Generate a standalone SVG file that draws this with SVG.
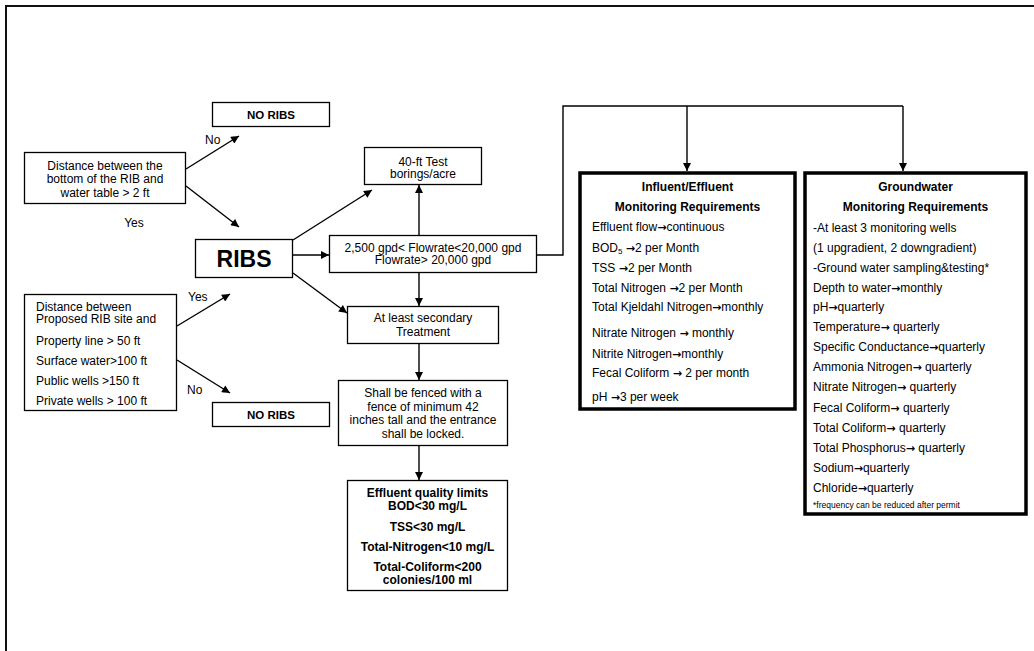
<svg xmlns="http://www.w3.org/2000/svg" width="1034" height="651" viewBox="0 0 1034 651">
<defs>
<marker id="ah" viewBox="0 0 10 10" refX="10" refY="5" markerWidth="9" markerHeight="8" markerUnits="userSpaceOnUse" orient="auto">
<path d="M0,0 L10,5 L0,10 z" fill="#000"/>
</marker>
</defs>
<style>
.box{fill:#fff;stroke:#000;stroke-width:1.3}
.thick{fill:#fff;stroke:#000;stroke-width:3.5}
.t{font-family:"Liberation Sans",Arial,sans-serif;font-size:12px;fill:#000}
.c{text-anchor:middle}
.b{font-weight:bold}
.a{font-family:"DejaVu Sans",sans-serif;font-size:11px;font-weight:bold}
.conn line,.conn polyline{stroke:#000;stroke-width:1.4;fill:none}
.arr{marker-end:url(#ah)}
</style>
<rect x="6" y="6" width="1100" height="700" fill="#fff" stroke="#111" stroke-width="2"/>

<g id="connectors" class="conn">
<line class="arr" x1="186" y1="169" x2="239" y2="136"/>
<line class="arr" x1="186" y1="186" x2="239" y2="227"/>
<line class="arr" x1="177" y1="326" x2="230" y2="294"/>
<line class="arr" x1="177" y1="360" x2="230" y2="393"/>
<line class="arr" x1="293" y1="255" x2="329" y2="255"/>
<line class="arr" x1="293" y1="240" x2="372" y2="190"/>
<line class="arr" x1="293" y1="273" x2="347" y2="313"/>
<line class="arr" x1="419" y1="235" x2="419" y2="185"/>
<line class="arr" x1="419" y1="272" x2="419" y2="306"/>
<line class="arr" x1="419" y1="343" x2="419" y2="380"/>
<line class="arr" x1="419" y1="445" x2="419" y2="480"/>
<polyline points="537,255 563,255 563,106 903,106"/>
<line class="arr" x1="687" y1="106" x2="687" y2="171"/>
<line class="arr" x1="903" y1="106" x2="903" y2="171"/>
</g>

<g id="labels">
<text class="t" x="205" y="144">No</text>
<text class="t c" x="134" y="227">Yes</text>
<text class="t" x="188" y="301">Yes</text>
<text class="t" x="187" y="394">No</text>
</g>

<g id="no-ribs-1">
<rect class="box" x="212.5" y="102.5" width="117" height="24"/>
<text class="t c b" x="271" y="118.5" style="font-size:11.5px">NO RIBS</text>
</g>

<g id="water-table">
<rect class="box" x="24.5" y="152.5" width="161" height="51"/>
<text class="t c" x="105" y="170">Distance between the</text>
<text class="t c" x="105" y="183">bottom of the RIB and</text>
<text class="t c" x="105" y="197">water table &gt; 2 ft</text>
</g>

<g id="ribs">
<rect class="box" x="195.5" y="239.5" width="97" height="38"/>
<text class="t c b" x="244" y="267" style="font-size:23px">RIBS</text>
</g>

<g id="setbacks">
<rect class="box" x="24.5" y="294.5" width="152" height="116"/>
<text class="t" x="36" y="311">Distance between</text>
<text class="t" x="36" y="323">Proposed RIB site and</text>
<text class="t" x="36" y="345">Property line &gt; 50 ft</text>
<text class="t" x="36" y="365">Surface water&gt;100 ft</text>
<text class="t" x="36" y="385">Public wells &gt;150 ft</text>
<text class="t" x="36" y="405">Private wells &gt; 100 ft</text>
</g>

<g id="no-ribs-2">
<rect class="box" x="212.5" y="402.5" width="117" height="24"/>
<text class="t c b" x="271" y="418.5" style="font-size:11.5px">NO RIBS</text>
</g>

<g id="test-borings">
<rect class="box" x="364.5" y="147.5" width="117" height="37"/>
<text class="t c" x="423" y="166">40-ft Test</text>
<text class="t c" x="423" y="178">borings/acre</text>
</g>

<g id="flowrate">
<rect class="box" x="329.5" y="235.5" width="207" height="37"/>
<text class="t c" x="433" y="252">2,500 gpd&lt; Flowrate&lt;20,000 gpd</text>
<text class="t c" x="433" y="264">Flowrate&gt; 20,000 gpd</text>
</g>

<g id="secondary">
<rect class="box" x="347.5" y="306.5" width="151" height="37"/>
<text class="t c" x="423" y="322">At least secondary</text>
<text class="t c" x="423" y="336">Treatment</text>
</g>

<g id="fence">
<rect class="box" x="338.5" y="380.5" width="169" height="65"/>
<text class="t c" x="423" y="397">Shall be fenced with a</text>
<text class="t c" x="423" y="411">fence of minimum 42</text>
<text class="t c" x="423" y="424">inches tall and the entrance</text>
<text class="t c" x="423" y="438">shall be locked.</text>
</g>

<g id="effluent-limits">
<rect class="box" x="347.5" y="480.5" width="160" height="110"/>
<text class="t c b" x="427.5" y="497">Effluent quality limits</text>
<text class="t c b" x="427.5" y="510">BOD&lt;30 mg/L</text>
<text class="t c b" x="427.5" y="531">TSS&lt;30 mg/L</text>
<text class="t c b" x="427.5" y="551">Total-Nitrogen&lt;10 mg/L</text>
<text class="t c b" x="427.5" y="571">Total-Coliform&lt;200</text>
<text class="t c b" x="427.5" y="584">colonies/100 ml</text>
</g>

<g id="influent-effluent">
<rect class="thick" x="580" y="173" width="215" height="236"/>
<text class="t c b" x="687.5" y="191">Influent/Effluent</text>
<text class="t c b" x="687.5" y="211">Monitoring Requirements</text>
<text class="t" x="592" y="231">Effluent flow<tspan class="a">→</tspan>continuous</text>
<text class="t" x="592" y="252">BOD<tspan style="font-size:8px" dy="2">5</tspan><tspan dy="-2"> </tspan><tspan class="a">→</tspan>2 per Month</text>
<text class="t" x="592" y="272">TSS <tspan class="a">→</tspan>2 per Month</text>
<text class="t" x="592" y="292">Total Nitrogen <tspan class="a">→</tspan>2 per Month</text>
<text class="t" x="592" y="311">Total Kjeldahl Nitrogen<tspan class="a">→</tspan>monthly</text>
<text class="t" x="592" y="337">Nitrate Nitrogen <tspan class="a">→</tspan>  monthly</text>
<text class="t" x="592" y="358">Nitrite Nitrogen<tspan class="a">→</tspan>monthly</text>
<text class="t" x="592" y="377">Fecal Coliform <tspan class="a">→</tspan> 2 per month</text>
<text class="t" x="592" y="401">pH <tspan class="a">→</tspan>3 per week</text>
</g>

<g id="groundwater">
<rect class="thick" x="805" y="173" width="221" height="341"/>
<text class="t c b" x="915.5" y="191">Groundwater</text>
<text class="t c b" x="915.5" y="211">Monitoring Requirements</text>
<text class="t" x="813" y="232">-At least 3 monitoring wells</text>
<text class="t" x="813" y="252">(1 upgradient, 2 downgradient)</text>
<text class="t" x="813" y="272">-Ground water sampling&amp;testing*</text>
<text class="t" x="813" y="292">Depth to water<tspan class="a">→</tspan>monthly</text>
<text class="t" x="813" y="311">pH<tspan class="a">→</tspan>quarterly</text>
<text class="t" x="813" y="331">Temperature<tspan class="a">→</tspan> quarterly</text>
<text class="t" x="813" y="351">Specific Conductance<tspan class="a">→</tspan>quarterly</text>
<text class="t" x="813" y="371">Ammonia Nitrogen<tspan class="a">→</tspan> quarterly</text>
<text class="t" x="813" y="391">Nitrate Nitrogen<tspan class="a">→</tspan> quarterly</text>
<text class="t" x="813" y="412">Fecal Coliform<tspan class="a">→</tspan> quarterly</text>
<text class="t" x="813" y="432">Total Coliform<tspan class="a">→</tspan> quarterly</text>
<text class="t" x="813" y="452">Total Phosphorus<tspan class="a">→</tspan> quarterly</text>
<text class="t" x="813" y="472">Sodium<tspan class="a">→</tspan>quarterly</text>
<text class="t" x="813" y="492">Chloride<tspan class="a">→</tspan>quarterly</text>
<text class="t" x="813" y="508" style="font-size:8.5px">*frequency can be reduced after permit</text>
</g>
</svg>
